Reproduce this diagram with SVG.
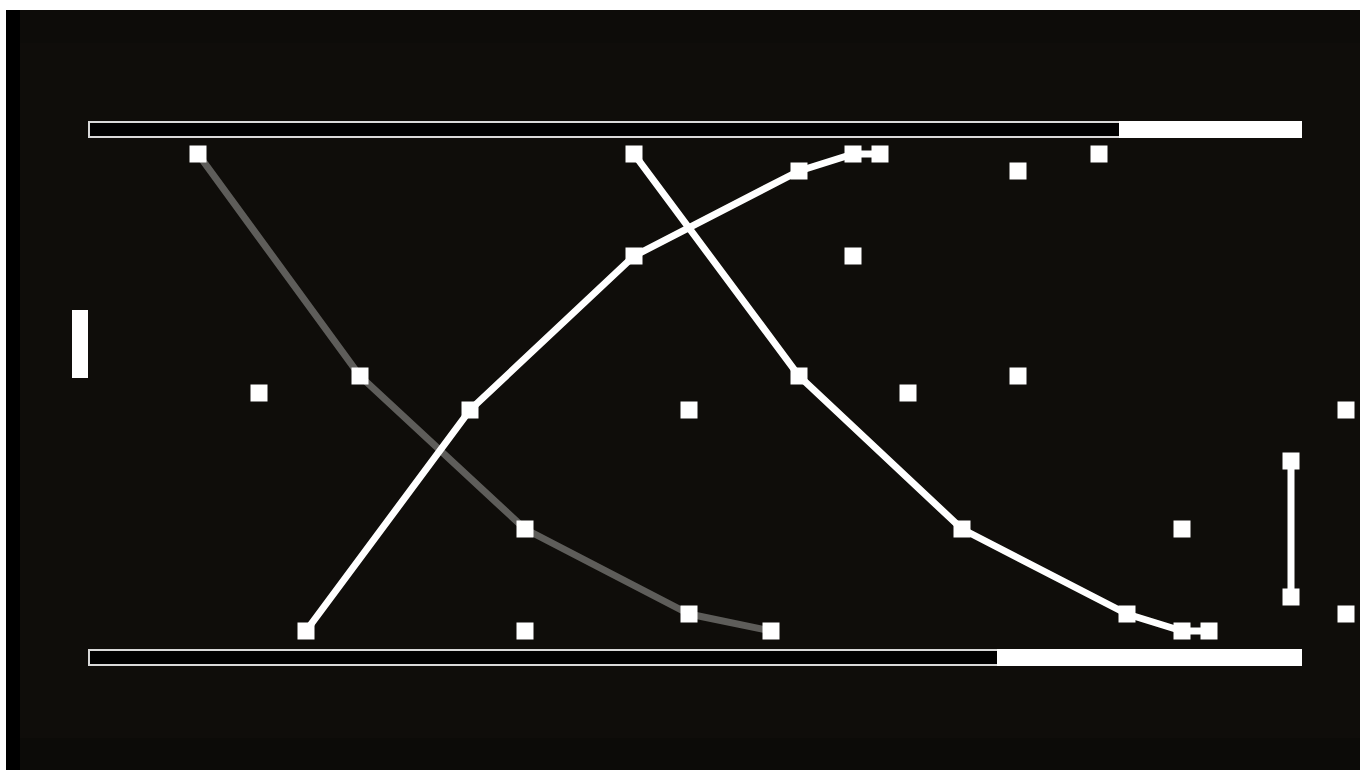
<svg xmlns="http://www.w3.org/2000/svg" width="1360" height="771" viewBox="0 0 1360 771">
<style>
.sq{fill:#ffffff}
.bar{fill:#000000;stroke:#d8d8d8;stroke-width:2}
.lw{fill:none;stroke:#ffffff;stroke-width:7;stroke-linejoin:round}
.lg{fill:none;stroke:#5e5d5a;stroke-width:7;stroke-linejoin:round}
</style>
<defs>
<rect id="s" x="-8.5" y="-8.5" width="17" height="17" class="sq"/>
</defs>
<rect x="0" y="0" width="1360" height="771" fill="#ffffff"/>
<rect x="6" y="10" width="1354" height="760" fill="#0f0d0a"/>
<rect x="20" y="10" width="1340" height="33" fill="#0d0c09"/>
<rect x="20" y="738" width="1340" height="32" fill="#0c0b08"/>
<rect x="6" y="10" width="14" height="760" fill="#000000"/>
<g id="top-bar">
<rect class="bar" x="89" y="122" width="1212" height="15"/>
<rect x="1119" y="121" width="183" height="17" fill="#ffffff"/>
</g>
<g id="bottom-bar">
<rect class="bar" x="89" y="650" width="1212" height="15"/>
<rect x="997" y="649" width="305" height="17" fill="#ffffff"/>
</g>
<g id="left-bar"><rect x="72" y="310" width="16" height="68" fill="#ffffff"/></g>
<g id="connectors">
<polyline class="lg" points="198,154 360,376 525,529 689,614 771,631"/>
<polyline class="lw" points="306,631 470,410 634,256 799,171 853,154 880,154"/>
<polyline class="lw" points="634,154 799,376 962,529 1127,614 1182,631 1209,631"/>
<polyline class="lw" points="1291,461 1291,597"/>
</g>
<g id="nodes">
<g id="n1"><use href="#s" x="198" y="154"/></g>
<g id="n2"><use href="#s" x="634" y="154"/></g>
<g id="n3"><use href="#s" x="853" y="154"/></g>
<g id="n4"><use href="#s" x="880" y="154"/></g>
<g id="n5"><use href="#s" x="1099" y="154"/></g>
<g id="n6"><use href="#s" x="799" y="171"/></g>
<g id="n7"><use href="#s" x="1018" y="171"/></g>
<g id="n8"><use href="#s" x="634" y="256"/></g>
<g id="n9"><use href="#s" x="853" y="256"/></g>
<g id="n10"><use href="#s" x="360" y="376"/></g>
<g id="n11"><use href="#s" x="799" y="376"/></g>
<g id="n12"><use href="#s" x="1018" y="376"/></g>
<g id="n13"><use href="#s" x="259" y="393"/></g>
<g id="n14"><use href="#s" x="908" y="393"/></g>
<g id="n15"><use href="#s" x="470" y="410"/></g>
<g id="n16"><use href="#s" x="689" y="410"/></g>
<g id="n17"><use href="#s" x="1346" y="410"/></g>
<g id="n18"><use href="#s" x="1291" y="461"/></g>
<g id="n19"><use href="#s" x="525" y="529"/></g>
<g id="n20"><use href="#s" x="962" y="529"/></g>
<g id="n21"><use href="#s" x="1182" y="529"/></g>
<g id="n22"><use href="#s" x="1291" y="597"/></g>
<g id="n23"><use href="#s" x="689" y="614"/></g>
<g id="n24"><use href="#s" x="1127" y="614"/></g>
<g id="n25"><use href="#s" x="1346" y="614"/></g>
<g id="n26"><use href="#s" x="306" y="631"/></g>
<g id="n27"><use href="#s" x="525" y="631"/></g>
<g id="n28"><use href="#s" x="771" y="631"/></g>
<g id="n29"><use href="#s" x="1182" y="631"/></g>
<g id="n30"><use href="#s" x="1209" y="631"/></g>
</g>
</svg>
